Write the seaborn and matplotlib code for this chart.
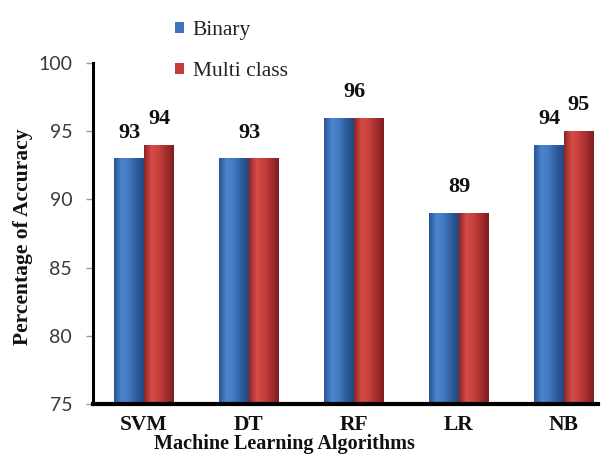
import numpy as np
import pandas as pd
import matplotlib
matplotlib.use("Agg")
import matplotlib.pyplot as plt
from matplotlib.colors import LinearSegmentedColormap
from matplotlib.patches import Patch
from matplotlib.font_manager import FontProperties
import seaborn as sns

# Accuracy (%) of each classifier for the two classification settings
algorithms = ["SVM", "DT", "RF", "LR", "NB"]
binary_acc = [93, 93, 96, 89, 94]
multiclass_acc = [94, 93, 96, 89, 95]
series_names = ["Binary", "Multi class"]
y_ticks = [75, 80, 85, 90, 95, 100]

df = pd.DataFrame({
    "Algorithm": algorithms * 2,
    "Accuracy": binary_acc + multiclass_acc,
    "Setting": [series_names[0]] * len(algorithms) + [series_names[1]] * len(algorithms),
})

sns.set_theme(style="white")
serif = ["Liberation Serif", "DejaVu Serif"]
plt.rcParams["font.family"] = ["Lato", "DejaVu Sans"]

blue = "#3F74BD"
red = "#C43D3C"
shades = {
    blue: ["#2A5594", "#4C84CE", "#4279C3", "#2F5D9C", "#22487F"],
    red: ["#902424", "#D54D49", "#C6403E", "#A42E2D", "#7E1E1E"],
}

fig = plt.figure(figsize=(6.01, 4.55), dpi=100)
ax = fig.add_axes([93 / 601, 1 - 404 / 455, 505 / 601, 341 / 455])

sns.barplot(data=df, x="Algorithm", y="Accuracy", hue="Setting",
            palette=[blue, red], width=0.57, ax=ax, legend=False,
            saturation=1, linewidth=0)

ax.set_ylim(75, 100)
ax.set_xlim(-0.486, 4.324)

# cylindrical shading on each bar
for container, base in zip(ax.containers, [blue, red]):
    cmap = LinearSegmentedColormap.from_list("shade", shades[base])
    grad = np.linspace(0, 1, 64).reshape(1, -1)
    for bar in container:
        x0 = bar.get_x()
        w = bar.get_width()
        h = bar.get_height()
        im = ax.imshow(grad, cmap=cmap, aspect="auto",
                       extent=(x0, x0 + w, 75, h), zorder=bar.get_zorder() + 0.1)
        im.set_clip_path(bar)
ax.set_ylim(75, 100)
ax.set_xlim(-0.486, 4.324)

# value labels: one label per pair when both settings agree
bin_bars, multi_bars = ax.containers[0], ax.containers[1]
for i in range(len(algorithms)):
    b, m = bin_bars[i], multi_bars[i]
    if binary_acc[i] == multiclass_acc[i]:
        cx = (b.get_x() + m.get_x() + m.get_width()) / 2
        items = [(cx, binary_acc[i])]
    else:
        items = [(b.get_x() + b.get_width() / 2, binary_acc[i]),
                 (m.get_x() + m.get_width() / 2, multiclass_acc[i])]
    for cx, v in items:
        ax.annotate(f"{v}", xy=(cx, v), xytext=(0, 15), textcoords="offset points",
                    ha="center", va="baseline", fontsize=16, fontweight="bold",
                    family=serif, color="#111111", annotation_clip=False)

ax.set_yticks(y_ticks)
ax.set_yticklabels([str(t) for t in y_ticks], fontsize=14, color="#3A3A3A")
ax.tick_params(axis="y", direction="out", length=5, width=1, color="#9A9A9A", pad=10, left=True)
ax.tick_params(axis="x", length=0, pad=8)
for lbl in ax.get_xticklabels():
    lbl.set_fontfamily(serif)
    lbl.set_fontweight("bold")
    lbl.set_fontsize(15.5)
    lbl.set_color("#111111")

for side in ["top", "right"]:
    ax.spines[side].set_visible(False)
ax.spines["left"].set_linewidth(2.2)
ax.spines["left"].set_color("black")
ax.spines["bottom"].set_linewidth(3)
ax.spines["bottom"].set_color("black")

ax.set_xlabel("Machine Learning Algorithms", fontsize=14.5, fontweight="bold",
              family=serif, color="#111111")
ax.xaxis.set_label_coords(0.38, -0.117)
ax.xaxis.label.set_va("center")
ax.set_ylabel("Percentage of Accuracy", fontsize=15.5, fontweight="bold",
              family=serif, color="#111111")
ax.yaxis.set_label_coords(-0.139, 0.49)
ax.yaxis.label.set_va("center")

legend_font = FontProperties(family="Liberation Serif", size=15.5)
handles = [Patch(facecolor=blue, edgecolor="none"), Patch(facecolor=red, edgecolor="none")]
leg = fig.legend(handles, series_names, loc="upper left",
                 bbox_to_anchor=(175 / 601, 1 - 21 / 455),
                 frameon=False, prop=legend_font,
                 handlelength=0.42, handleheight=0.42, handletextpad=0.4,
                 labelspacing=1.02, borderpad=0, borderaxespad=0)
for t in leg.get_texts():
    t.set_color("#222222")

fig.savefig("out.png", dpi=100)
